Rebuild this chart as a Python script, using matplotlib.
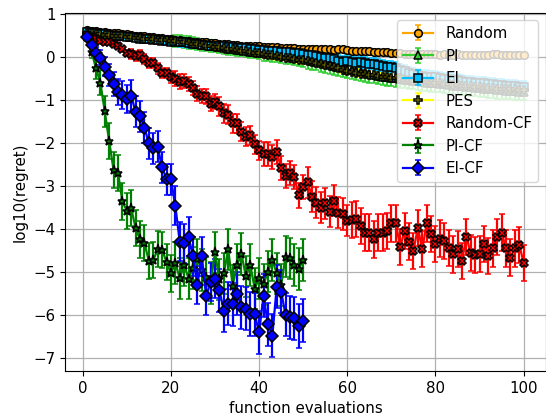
import numpy as np
import matplotlib
matplotlib.use("Agg")
import matplotlib.pyplot as plt

plt.rcParams["font.family"] = ["DejaVu Sans"]
plt.rcParams["font.size"] = 10.8

evals_long = np.arange(1, 101)
evals_short = np.arange(1, 51)

random_mean = [
    0.62, 0.60, 0.59, 0.58, 0.57, 0.56, 0.55, 0.54, 0.53, 0.52,
    0.51, 0.49, 0.48, 0.47, 0.46, 0.45, 0.44, 0.43, 0.41, 0.40,
    0.39, 0.38, 0.37, 0.36, 0.35, 0.35, 0.34, 0.33, 0.32, 0.31,
    0.30, 0.29, 0.29, 0.28, 0.27, 0.26, 0.26, 0.25, 0.24, 0.24,
    0.23, 0.23, 0.22, 0.22, 0.21, 0.21, 0.20, 0.20, 0.19, 0.19,
    0.19, 0.18, 0.18, 0.17, 0.18, 0.17, 0.16, 0.17, 0.17, 0.15,
    0.14, 0.14, 0.13, 0.14, 0.13, 0.12, 0.11, 0.11, 0.10, 0.09,
    0.08, 0.08, 0.07, 0.07, 0.07, 0.06, 0.07, 0.06, 0.06, 0.06,
    0.05, 0.06, 0.05, 0.05, 0.06, 0.05, 0.04, 0.05, 0.05, 0.04,
    0.05, 0.04, 0.06, 0.06, 0.05, 0.05, 0.04, 0.05, 0.05, 0.05,
]
random_err = [0.03] * 20 + [0.04] * 40 + [0.05] * 40

pi_mean = [
    0.57, 0.56, 0.55, 0.54, 0.52, 0.51, 0.50, 0.49, 0.48, 0.47,
    0.46, 0.45, 0.44, 0.43, 0.42, 0.41, 0.40, 0.39, 0.38, 0.38,
    0.37, 0.36, 0.34, 0.33, 0.31, 0.30, 0.28, 0.27, 0.25, 0.24,
    0.22, 0.21, 0.19, 0.18, 0.16, 0.15, 0.13, 0.12, 0.10, 0.09,
    0.08, 0.07, 0.06, 0.05, 0.03, 0.02, 0.00, -0.02, -0.04, -0.06,
    -0.08, -0.10, -0.12, -0.15, -0.17, -0.20, -0.22, -0.25, -0.27, -0.30,
    -0.32, -0.34, -0.36, -0.38, -0.40, -0.42, -0.44, -0.46, -0.47, -0.49,
    -0.50, -0.52, -0.53, -0.55, -0.56, -0.57, -0.59, -0.60, -0.61, -0.62,
    -0.63, -0.64, -0.66, -0.67, -0.68, -0.69, -0.70, -0.71, -0.72, -0.73,
    -0.74, -0.75, -0.76, -0.77, -0.78, -0.79, -0.79, -0.80, -0.81, -0.81,
]
pi_err = [0.08] * 20 + [0.14] * 20 + [0.18] * 10 + [0.2] * 50

ei_mean = [
    0.58, 0.56, 0.55, 0.53, 0.52, 0.50, 0.49, 0.48, 0.47, 0.46,
    0.45, 0.44, 0.42, 0.41, 0.40, 0.39, 0.38, 0.37, 0.36, 0.35,
    0.34, 0.33, 0.33, 0.31, 0.30, 0.30, 0.28, 0.27, 0.26, 0.25,
    0.25, 0.24, 0.22, 0.22, 0.21, 0.20, 0.20, 0.18, 0.17, 0.16,
    0.16, 0.14, 0.13, 0.13, 0.12, 0.11, 0.10, 0.09, 0.08, 0.07,
    0.05, 0.03, 0.02, 0.00, -0.02, -0.03, -0.06, -0.10, -0.12, -0.11,
    -0.12, -0.14, -0.13, -0.15, -0.17, -0.18, -0.20, -0.22, -0.24, -0.25,
    -0.27, -0.30, -0.33, -0.37, -0.40, -0.42, -0.44, -0.46, -0.47, -0.48,
    -0.50, -0.51, -0.52, -0.54, -0.55, -0.57, -0.58, -0.59, -0.60, -0.61,
    -0.62, -0.63, -0.64, -0.65, -0.66, -0.68, -0.67, -0.69, -0.70, -0.71,
]
ei_err = [0.06] * 20 + [0.1] * 30 + [0.14] * 50

pes_mean = [
    0.55, 0.54, 0.53, 0.52, 0.51, 0.50, 0.49, 0.48, 0.47, 0.46,
    0.45, 0.44, 0.43, 0.42, 0.41, 0.40, 0.39, 0.39, 0.38, 0.37,
    0.36, 0.35, 0.33, 0.32, 0.30, 0.29, 0.27, 0.26, 0.24, 0.23,
    0.22, 0.20, 0.19, 0.17, 0.16, 0.14, 0.13, 0.11, 0.09, 0.08,
    0.06, 0.05, 0.03, 0.01, 0.00, -0.02, -0.03, -0.05, -0.07, -0.08,
    -0.10, -0.12, -0.14, -0.16, -0.19, -0.21, -0.24, -0.27, -0.30, -0.33,
    -0.35, -0.37, -0.39, -0.40, -0.42, -0.43, -0.45, -0.46, -0.47, -0.49,
    -0.50, -0.52, -0.53, -0.55, -0.56, -0.57, -0.58, -0.59, -0.60, -0.61,
    -0.62, -0.63, -0.64, -0.65, -0.66, -0.67, -0.68, -0.69, -0.70, -0.71,
    -0.72, -0.72, -0.73, -0.74, -0.74, -0.75, -0.76, -0.76, -0.77, -0.77,
]
pes_err = [0.05] * 30 + [0.08] * 70

random_cf_mean = [
    0.50, 0.46, 0.40, 0.37, 0.33, 0.33, 0.30, 0.25, 0.17, 0.09,
    0.06, 0.02, 0.04, -0.06, -0.14, -0.14, -0.27, -0.38, -0.38, -0.48,
    -0.51, -0.58, -0.56, -0.63, -0.73, -0.86, -0.91, -0.92, -1.09, -1.04,
    -1.15, -1.31, -1.35, -1.55, -1.55, -1.74, -1.86, -1.82, -2.03, -2.17,
    -2.26, -2.26, -2.33, -2.21, -2.58, -2.77, -2.69, -2.80, -3.22, -3.03,
    -2.91, -3.25, -3.39, -3.50, -3.40, -3.60, -3.34, -3.62, -3.65, -3.81,
    -3.79, -3.77, -3.93, -4.08, -4.08, -4.24, -4.08, -4.08, -4.04, -3.87,
    -3.87, -4.41, -4.04, -4.29, -4.50, -3.97, -4.47, -3.87, -4.11, -4.35,
    -4.22, -4.27, -4.43, -4.59, -4.47, -4.74, -4.18, -4.56, -4.60, -4.58,
    -4.35, -4.62, -4.45, -4.18, -4.08, -4.45, -4.66, -4.45, -4.37, -4.78,
]
random_cf_err = [0.06] * 10 + [0.12] * 10 + [0.17] * 10 + [0.22] * 10 + \
    [0.28] * 10 + [0.36] * 10 + [0.42] * 40

pi_cf_mean = [
    0.45, 0.12, -0.27, -0.60, -1.27, -1.96, -2.63, -2.69, -3.36, -3.58,
    -3.52, -3.98, -4.24, -4.33, -4.74, -4.72, -4.47, -4.48, -4.76, -5.03,
    -4.79, -5.14, -4.83, -5.15, -4.90, -4.70, -4.95, -5.12, -5.25, -4.54,
    -5.17, -5.03, -4.47, -5.31, -4.83, -4.58, -5.10, -4.83, -5.38, -5.14,
    -5.28, -4.99, -4.72, -5.03, -5.30, -4.64, -4.68, -4.83, -4.93, -4.72,
]
pi_cf_err = [0.05, 0.15, 0.25, 0.3, 0.35] + [0.42] * 15 + [0.48] * 30

ei_cf_mean = [
    0.46, 0.27, 0.08, -0.02, -0.23, -0.42, -0.64, -0.81, -0.89, -0.98,
    -0.91, -1.28, -1.38, -1.65, -2.01, -2.13, -2.09, -2.57, -2.84, -2.84,
    -3.46, -4.29, -4.33, -4.18, -4.63, -5.30, -4.63, -5.55, -5.23, -5.15,
    -5.42, -5.89, -5.73, -5.75, -5.50, -5.81, -5.85, -5.97, -5.98, -6.40,
    -5.55, -6.21, -6.47, -5.34, -5.45, -5.99, -6.05, -6.07, -6.25, -6.13,
]
ei_cf_err = [0.05, 0.1, 0.15, 0.18, 0.22, 0.26, 0.28, 0.3, 0.32, 0.33] + \
    [0.36] * 10 + [0.45] * 10 + [0.5] * 20

series = [
    ("Random", evals_long, random_mean, random_err, "orange", "o", 5.5),
    ("PI", evals_long, pi_mean, pi_err, "limegreen", "^", 5.5),
    ("EI", evals_long, ei_mean, ei_err, "deepskyblue", "s", 5.5),
    ("PES", evals_long, pes_mean, pes_err, "yellow", "P", 6),
    ("Random-CF", evals_long, random_cf_mean, random_cf_err, "red", "X", 6),
    ("PI-CF", evals_short, pi_cf_mean, pi_cf_err, "green", "*", 6.5),
    ("EI-CF", evals_short, ei_cf_mean, ei_cf_err, "blue", "D", 6),
]

fig = plt.figure(figsize=(5.46, 4.18), dpi=100)
ax = fig.add_axes([0.1196, 0.1124, 0.8795, 0.8572])

for label, x, m, e, color, marker, ms in series:
    ax.errorbar(x, m, yerr=e, color=color, marker=marker, markersize=ms,
                markerfacecolor=color, markeredgecolor="k",
                markeredgewidth=1.1, linewidth=1.6, elinewidth=1.6,
                capsize=2.4, label=label)

ax.set_xlim(-3.95, 104.95)
ax.set_ylim(-7.294, 1.021)
ax.set_xticks([0, 20, 40, 60, 80, 100])
ax.set_yticks(np.arange(-7, 2, 1))
ax.grid(True, color="#b0b0b0", linewidth=0.9)
ax.set_axisbelow(True)
ax.set_xlabel("function evaluations")
ax.set_ylabel("log10(regret)")
ax.legend(loc="upper right")

fig.savefig("out.png", dpi=100)
